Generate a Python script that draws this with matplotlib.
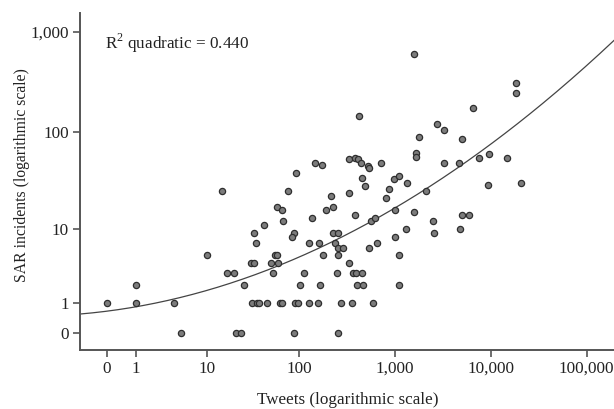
import numpy as np
import matplotlib
matplotlib.use("Agg")
import matplotlib.pyplot as plt

# Data (tweets, SAR incidents)
tweets = [0, 1, 1, 4, 5, 10, 17, 20, 21, 24, 26, 31, 33, 32, 36, 38, 46, 33, 35, 42,
          15, 55, 59, 50, 60, 53, 63, 66, 59, 66, 68, 77, 92, 88, 84, 90, 98, 89, 103, 113,
          135, 128, 163, 177, 128, 159, 166, 147, 173, 216, 225, 192, 228, 236, 254, 255, 288, 254, 254, 333,
          248, 370, 392, 459, 401, 470, 273, 356, 598, 1108, 1108, 538, 658, 1007, 1302, 2488, 2548, 4785, 4990, 5943,
          382, 565, 623, 1006, 1590, 333, 459, 493, 984, 1109, 1333, 872, 805, 2119, 331, 388, 417, 442, 526, 535,
          715, 1667, 1667, 1778, 3266, 4677, 7551, 9485, 14690, 9440, 20840, 5024, 2780, 3289, 6590, 18360, 18360, 427, 1588]
incidents = [1, 2, 1, 1, 0, 5, 3, 3, 0, 0, 2, 4, 4, 1, 1, 1, 1, 9, 7, 11,
             25, 5, 5, 4, 4, 3, 1, 1, 17, 16, 12, 25, 38, 9, 8, 1, 1, 0, 2, 3,
             13, 7, 7, 5, 1, 1, 2, 48, 46, 22, 17, 16, 9, 7, 9, 6, 6, 5, 0, 4,
             3, 3, 3, 3, 2, 2, 1, 1, 1, 2, 5, 6, 7, 8, 10, 12, 9, 10, 14, 14,
             14, 12, 13, 16, 15, 24, 34, 28, 33, 36, 30, 26, 21, 25, 53, 54, 53, 49, 45, 43,
             48, 61, 56, 89, 49, 49, 55, 60, 55, 29, 30, 85, 119, 104, 173, 308, 244, 145, 596]

# Quadratic fit in log10(v+1) space (coefficients)
fit_coeffs = [0.0735, 0.1215, 0.22]   # c, b, a
r2_text = "R$^2$ quadratic = 0.440"

x_ticks = [0, 1, 10, 100, 1000, 10000, 100000]
x_ticklabels = ["0", "1", "10", "100", "1,000", "10,000", "100,000"]
y_ticks = [0, 1, 10, 100, 1000]
y_ticklabels = ["0", "1", "10", "100", "1,000"]

plt.rcParams['font.family'] = ['Liberation Serif', 'DejaVu Serif']
plt.rcParams['mathtext.fontset'] = 'custom'
plt.rcParams['mathtext.rm'] = 'Liberation Serif'


def fwd(v):
    v = np.asarray(v, dtype=float)
    with np.errstate(invalid='ignore', divide='ignore'):
        return np.log10(v + 1)


def inv(v):
    return 10 ** np.asarray(v, dtype=float) - 1


fig = plt.figure(figsize=(6.14, 4.09), dpi=100)
ax = fig.add_axes([80 / 614, 1 - 350 / 409, 1 - 80 / 614, (350 - 13) / 409])
ax.set_xscale('function', functions=(fwd, inv))
ax.set_yscale('function', functions=(fwd, inv))

xl = (inv(-0.278), inv(5.284))
yl = (inv(-0.166), inv(3.187))

# fit curve
lx = np.linspace(-0.278, 5.284, 300)
ly = np.polyval(fit_coeffs, lx)
ax.plot(inv(lx), inv(ly), color='#444444', lw=0.9, zorder=2)

ax.scatter(tweets, incidents, s=20, facecolor='#7c7c7c', edgecolor='#2e2e2e',
           linewidths=0.9, zorder=3)

ax.set_xlim(*xl)
ax.set_ylim(*yl)
ax.set_xticks(x_ticks)
ax.set_xticklabels(x_ticklabels)
ax.set_yticks(y_ticks)
ax.set_yticklabels(y_ticklabels)
ax.minorticks_off()

for s in ['top', 'right']:
    ax.spines[s].set_visible(False)
for s in ['left', 'bottom']:
    ax.spines[s].set_color('#555555')
    ax.spines[s].set_linewidth(1.4)
ax.tick_params(axis='both', direction='out', length=5, width=1.2, color='#555555',
               labelsize=12.3, labelcolor='#222222', pad=3)

fig.text(105 / 614, 1 - 43 / 409, r2_text, fontsize=12.3, color='#222222',
         ha='left', va='center')
fig.text(347.5 / 614, 1 - 400 / 409, "Tweets (logarithmic scale)", fontsize=12.3,
         color='#222222', ha='center', va='center')
fig.text(22 / 614, 1 - 175 / 409, "SAR incidents (logarithmic scale)", fontsize=11.3,
         color='#222222', ha='center', va='center', rotation=90)

fig.savefig("out.png", dpi=100)
